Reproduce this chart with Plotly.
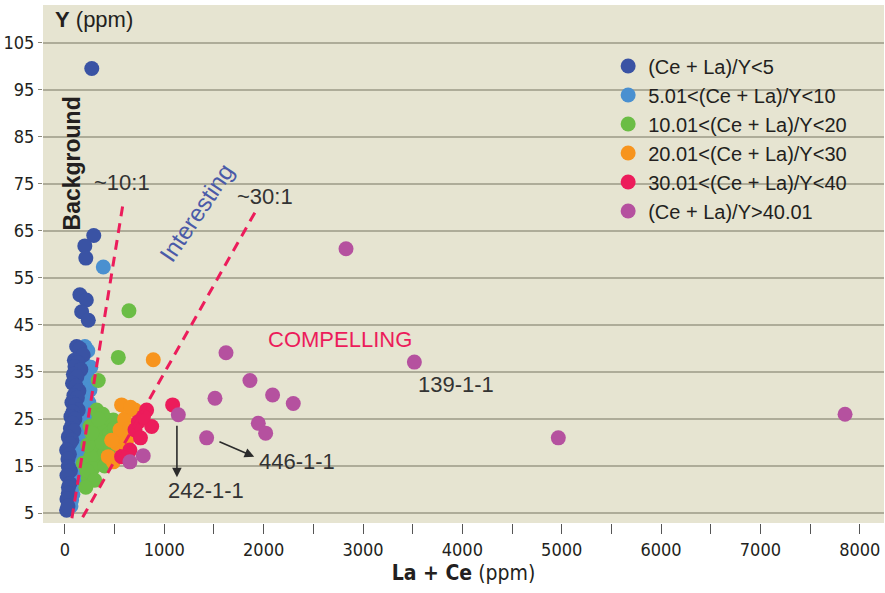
import plotly.graph_objects as go

# ---------------- data ----------------
series_names = ["(Ce + La)/Y<5", "5.01<(Ce + La)/Y<10", "10.01<(Ce + La)/Y<20",
                "20.01<(Ce + La)/Y<30", "30.01<(Ce + La)/Y<40", "(Ce + La)/Y>40.01"]
series_colors = ["#3a53a4", "#4a90d0", "#6bbd45", "#f7941d", "#ec1c5b", "#b5519f"]

dark_x = [270, 290, 200, 210, 150, 215, 168, 235,
          118, 150, 184, 95, 130, 101, 160, 85, 120, 76, 110, 140, 90, 125, 70, 105,
          134, 80, 60, 100, 75, 55, 90, 34, 70, 50, 17, 45, 30, 34, 55, 20, 50, 35,
          34, 20, 17, 30]
dark_y = [99.5, 64, 61.8, 59.2, 51.4, 50.3, 47.8, 46,
          40.4, 40, 38.6, 37.5, 37, 36.1, 35.5, 34.5, 34, 32.6, 32, 31, 30, 29.5, 28.5, 28,
          26.9, 26.5, 25.5, 25, 24.1, 23, 22.5, 21.2, 20.5, 19.8, 18.4, 17.5, 16.5, 14.9, 14, 13, 11.3, 10.5,
          9.2, 8, 5.6, 6.5]

light_x = [386, 201, 230, 184, 260, 200, 240, 180, 252, 215, 170, 240, 200, 160, 230, 190,
           150, 218, 170, 130, 190, 150, 110, 151, 120, 100, 130, 84, 100, 70, 80, 67, 60]
light_y = [57.3, 40.4, 39.5, 37, 36, 35, 33.5, 32.5, 31.2, 30, 29, 28.5, 27.5, 26.5, 26, 25,
           24, 22.7, 22, 21, 20, 19, 18.5, 17, 16, 15, 14, 12.7, 12, 10, 9, 7.8, 6.5]

green_x = [644, 537, 335, 319, 420, 486, 352, 420, 285, 184, 319, 235, 352, 252, 380, 450,
           500, 300, 390, 260, 280, 220, 300, 210, 370, 340, 460, 400, 230, 270]
green_y = [48, 38.1, 33.2, 26.9, 24.8, 24.8, 22.7, 20.5, 19.8, 15.6, 16.3, 12.4, 18.4, 23.4, 26, 22,
           23, 21.5, 17.5, 17, 14.5, 14, 12, 10.5, 20, 25, 19, 15, 19.5, 22]

orange_x = [889, 570, 705, 554, 520, 436, 486, 621, 600, 650, 580, 470, 660]
orange_y = [37.6, 28, 26.9, 22.7, 19.8, 17, 15.9, 20.5, 25, 23, 18, 20.5, 27.5]

red_x = [1084, 822, 738, 873, 705, 654, 570, 760, 790]
red_y = [28, 26.9, 24.4, 23.4, 22.7, 18.4, 17, 21, 25.5]

purple_x = [2829, 1621, 3517, 1862, 1510, 2090, 2298, 1141, 1946, 2020, 1426, 4966, 7852, 788, 654]
purple_y = [61.2, 39.1, 37.1, 33.2, 29.4, 30.1, 28.3, 25.9, 24.1, 22, 21, 21, 26, 17.2, 15.9]

x_tick_vals = [0, 500, 1000, 1500, 2000, 2500, 3000, 3500, 4000, 4500, 5000, 5500, 6000, 6500, 7000, 7500, 8000]
x_tick_text = ["0", "", "1000", "", "2000", "", "3000", "", "4000", "", "5000", "", "6000", "", "7000", "", "8000"]
y_tick_vals = [5, 15, 25, 35, 45, 55, 65, 75, 85, 95, 105]

# guide lines (ratio boundaries), data coordinates
line10_x = [70, 584]
line10_y = [3.9, 70.7]
line30_x = [178, 1923]
line30_y = [4.1, 69.3]

# ---------------- figure ----------------
TXT = "#231f20"
FONT = "Liberation Sans, Arial, sans-serif"
NARROW = "DejaVu Sans Condensed, Liberation Sans Narrow, sans-serif"

fig = go.Figure()

series = [
    (light_x, light_y, 1),
    (dark_x, dark_y, 0),
    (green_x, green_y, 2),
    (orange_x, orange_y, 3),
    (red_x, red_y, 4),
    (purple_x, purple_y, 5),
]
for xs, ys, i in series:
    fig.add_trace(go.Scatter(
        x=xs, y=ys, mode="markers", name=series_names[i], legendrank=i + 1,
        marker=dict(size=15, color=series_colors[i], line=dict(width=0)),
    ))

for lx, ly in [(line10_x, line10_y), (line30_x, line30_y)]:
    fig.add_trace(go.Scatter(
        x=lx, y=ly, mode="lines", showlegend=False, hoverinfo="skip",
        line=dict(color="#ec1c5b", width=3, dash="10px,7px"),
    ))

ann = []
def txt(x, y, t, size=22, color=TXT, angle=0, font=FONT, xanchor="center"):
    ann.append(dict(x=x, y=y, xref="x", yref="y", text=t, showarrow=False,
                    textangle=angle, xanchor=xanchor, yanchor="middle",
                    font=dict(family=font, size=size, color=color)))

txt(-121, 109.9, "<b>Y</b> (ppm)", size=22, xanchor="left")
txt(70, 79.3, "<b>Background</b>", size=23, angle=-90)
txt(574, 75.2, "~10:1", size=22, color="#333333")
txt(2013, 72.2, "~30:1", size=22, color="#333333")
txt(1329, 68.8, "Interesting", size=24, color="#4a5aa8", angle=-56)
txt(2768, 42, "COMPELLING", size=22, color="#ec1c5b")
txt(3936, 32.4, "139-1-1", size=22, color="#333333")
txt(1419, 9.9, "242-1-1", size=22, color="#333333")
txt(2335, 15.9, "446-1-1", size=22, color="#333333")

for (hx, hy, tx, ty) in [(1127, 12.6, 1127, 23.9), (1905, 17.0, 1540, 20.3)]:
    ann.append(dict(x=hx, y=hy, ax=tx, ay=ty, xref="x", yref="y", axref="x", ayref="y",
                    text="", showarrow=True, arrowhead=2, arrowsize=1.2, arrowwidth=1.6,
                    arrowcolor="#2b2b2b"))

fig.update_layout(
    width=885, height=593,
    margin=dict(l=43, r=1, t=5, b=70),
    paper_bgcolor="white",
    plot_bgcolor="#e6e4d1",
    showlegend=True,
    legend=dict(x=0.672, y=0.92, xanchor="left", yanchor="top",
                bgcolor="rgba(0,0,0,0)", borderwidth=0,
                font=dict(family=FONT, size=20, color=TXT)),
    annotations=ann,
    xaxis=dict(range=[-221, 8244], tickvals=x_tick_vals, ticktext=x_tick_text,
               showgrid=False, zeroline=False, showline=False,
               ticks="outside", ticklen=10, tickcolor="#555555", tickwidth=1.3,
               tickfont=dict(family=NARROW, size=18, color=TXT),
               title=dict(text="<b>La + Ce</b> (ppm)", standoff=6,
                          font=dict(family=NARROW, size=21, color=TXT))),
    yaxis=dict(range=[2.9, 113], tickvals=y_tick_vals,
               showgrid=True, gridcolor="#aeac99", gridwidth=1.5,
               zeroline=False, showline=False,
               ticks="outside", ticklen=4, tickcolor="#8a8878",
               tickfont=dict(family=NARROW, size=18, color=TXT)),
)

fig.write_html("out.html", config={"displayModeBar": False},
               post_script="document.body.style.margin='0';")
